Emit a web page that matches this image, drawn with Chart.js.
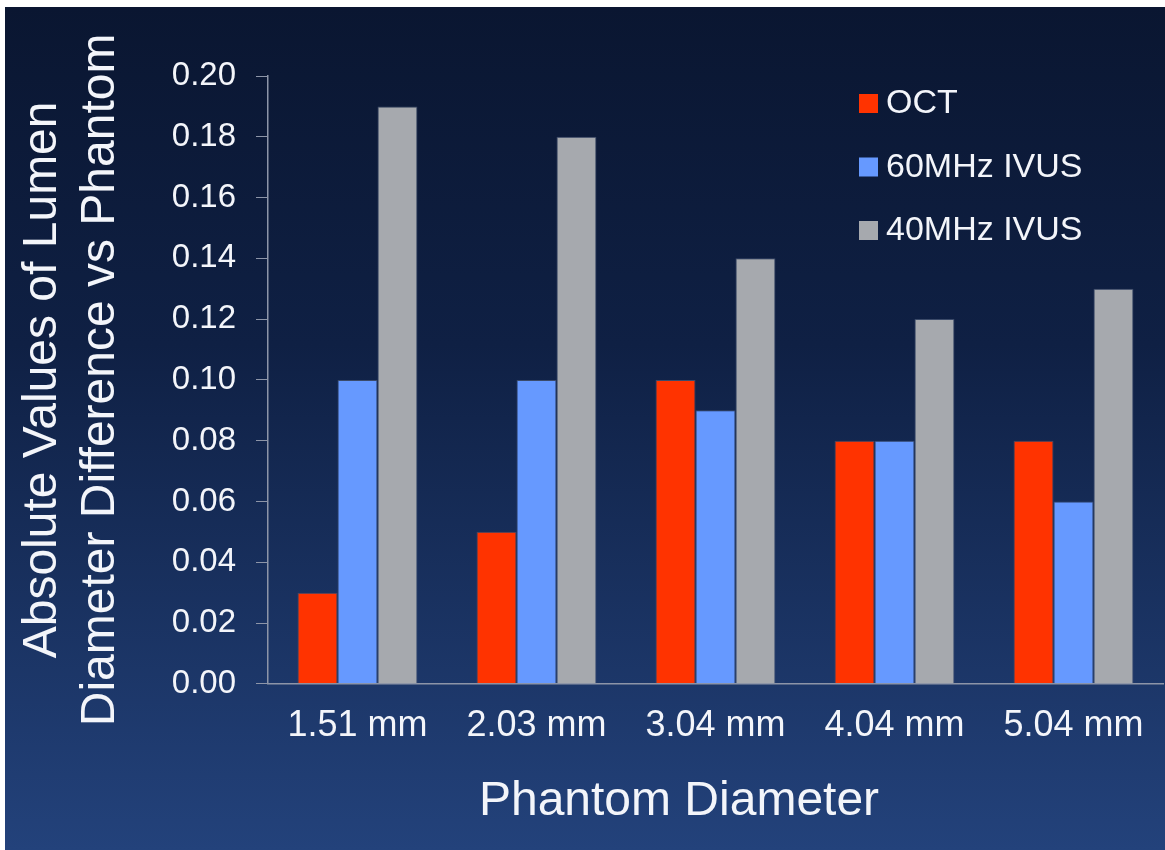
<!DOCTYPE html>
<html lang="en">

<head>
    <meta charset="UTF-8">
    <meta name="viewport" content="width=device-width, initial-scale=1.0">
    <title>Lumen Diameter Difference</title>
    <script src="https://cdn.jsdelivr.net/npm/chart.js"></script>
    <style>
        html, body { margin: 0; padding: 0; background: #fff; }
        #wrap { width: 1165px; height: 850px; }
    </style>
</head>

<body>
    <div id="wrap"><canvas id="myChart"></canvas></div>
    <script>
        const diameters = ['1.51 mm', '2.03 mm', '3.04 mm', '4.04 mm', '5.04 mm'];
        const octDiff = [0.03, 0.05, 0.10, 0.08, 0.08];
        const ivus60Diff = [0.10, 0.10, 0.09, 0.08, 0.06];
        const ivus40Diff = [0.19, 0.18, 0.14, 0.12, 0.13];

        const FONT = '"Liberation Sans", Arial, sans-serif';
        const WHITE = '#f3f5fa';
        const AXIS = '#8d95a8';

        // slide style navy gradient behind everything
        const backdrop = {
            id: 'backdrop',
            beforeDraw(chart) {
                const ctx = chart.ctx;
                const g = ctx.createLinearGradient(0, 7, 0, chart.height);
                g.addColorStop(0, '#0a1631');
                g.addColorStop(0.4, '#0f2044');
                g.addColorStop(1, '#23427b');
                ctx.save();
                ctx.fillStyle = g;
                ctx.fillRect(5, 7, chart.width - 5, chart.height - 7);
                ctx.restore();
            }
        };

        // legend inside the plot, top right + x axis title
        const overlay = {
            id: 'overlay',
            afterDraw(chart) {
                const ctx = chart.ctx;
                ctx.save();
                ctx.font = '34px ' + FONT;
                ctx.textBaseline = 'middle';
                chart.data.datasets.forEach((ds, i) => {
                    const y = 103 + i * 63.5;
                    ctx.fillStyle = ds.backgroundColor;
                    ctx.fillRect(859, y - 9, 19, 19);
                    ctx.fillStyle = WHITE;
                    ctx.fillText(ds.label, 886, y + 1);
                });
                ctx.font = '48px ' + FONT;
                ctx.textAlign = 'center';
                ctx.textBaseline = 'alphabetic';
                ctx.fillText('Phantom Diameter', 679, 815);
                ctx.restore();
            }
        };

        const ctx = document.getElementById('myChart');
        new Chart(ctx, {
            type: 'bar',
            data: {
                labels: diameters,
                datasets: [
                    { label: 'OCT', data: octDiff, backgroundColor: '#ff3300' },
                    { label: '60MHz IVUS', data: ivus60Diff, backgroundColor: '#6699ff' },
                    { label: '40MHz IVUS', data: ivus40Diff, backgroundColor: '#a6a9ae' }
                ]
            },
            options: {
                responsive: true,
                maintainAspectRatio: false,
                animation: false,
                layout: { padding: { left: 0, top: 76, right: 2, bottom: 81 } },
                datasets: {
                    bar: {
                        categoryPercentage: 0.67,
                        barPercentage: 1.0,
                        borderWidth: 1,
                        borderColor: 'rgba(70,85,115,0.8)',
                        borderSkipped: 'bottom'
                    }
                },
                plugins: {
                    legend: { display: false },
                    tooltip: { enabled: false }
                },
                scales: {
                    x: {
                        grid: { display: false, drawTicks: false },
                        border: { color: AXIS, width: 1.5 },
                        ticks: { color: WHITE, font: { family: FONT, size: 36 }, padding: 21 }
                    },
                    y: {
                        min: 0,
                        max: 0.2,
                        afterFit(scale) { scale.width = 268; },
                        grid: { drawOnChartArea: false, drawTicks: true, tickLength: 12, color: AXIS },
                        border: { color: AXIS, width: 1.5 },
                        ticks: {
                            stepSize: 0.02,
                            color: WHITE,
                            padding: 20,
                            font: { family: FONT, size: 33 },
                            callback: v => v.toFixed(2)
                        },
                        title: {
                            display: true,
                            text: ['Absolute Values of Lumen', 'Diameter Difference vs Phantom'],
                            color: WHITE,
                            font: { family: FONT, size: 48, lineHeight: 1.2 },
                            padding: { top: 14, bottom: 0 }
                        }
                    }
                }
            },
            plugins: [backdrop, overlay]
        });
    </script>
</body>

</html>
